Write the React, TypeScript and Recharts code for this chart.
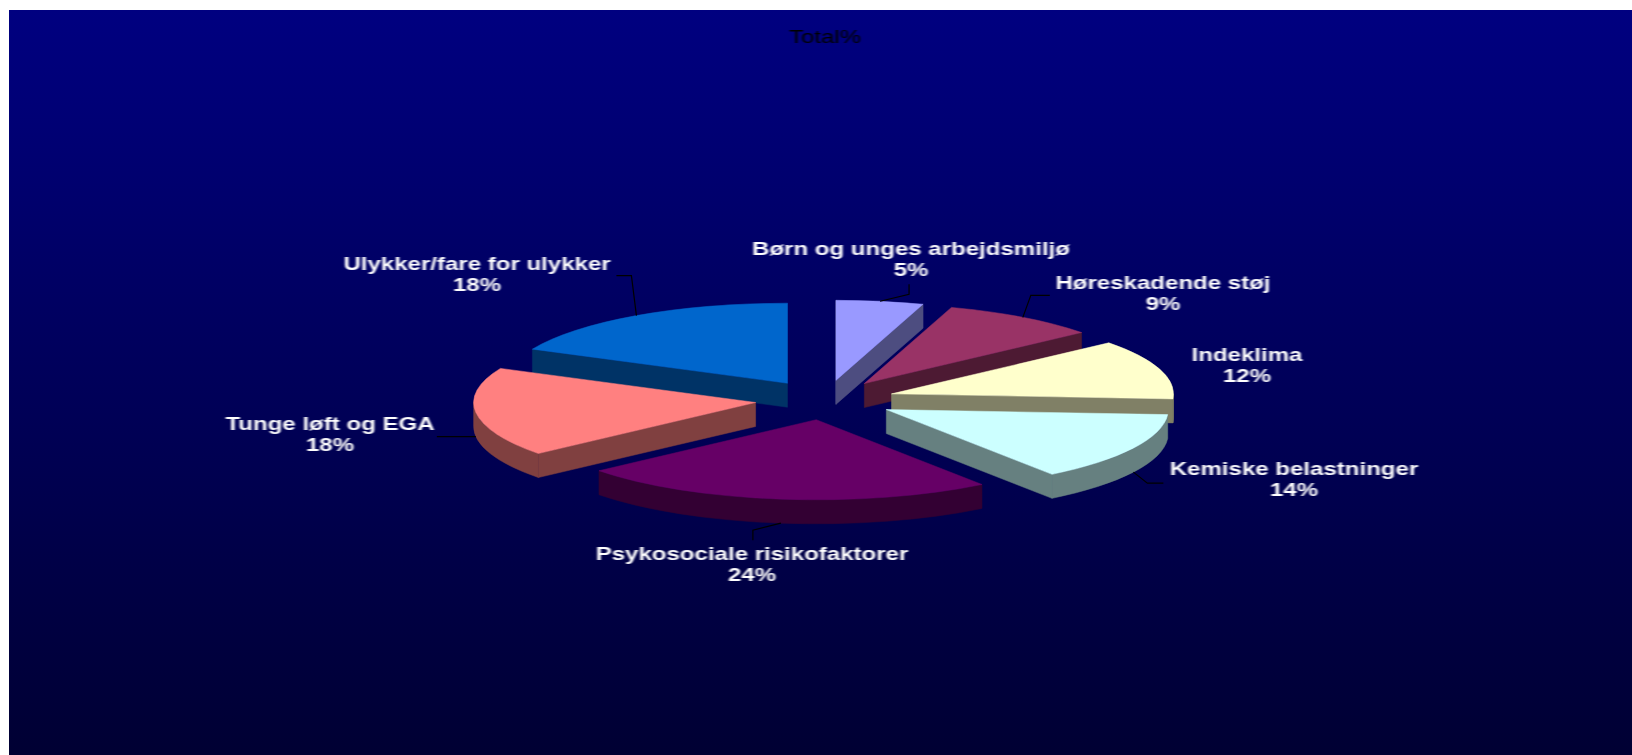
/**
 * Total% - exploded 3D look pie, drawn with a custom Pie sector shape
 */

import { PieChart, Pie } from 'recharts';

const categories = [
  'Ulykker/fare for ulykker',
  'Børn og unges arbejdsmiljø',
  'Høreskadende støj',
  'Indeklima',
  'Kemiske belastninger',
  'Psykosociale risikofaktorer',
  'Tunge løft og EGA',
];
const shares = [18, 5, 9, 12, 14, 24, 18];
const topColors = ['#0066cc', '#9999ff', '#993366', '#ffffcc', '#ccffff', '#660066', '#ff8080'];
const sideColors = ['#003366', '#4d4d80', '#4d1a33', '#808066', '#668080', '#330033', '#804040'];

const data = categories.map((name, i) => ({ name, value: shares[i], fill: topColors[i], side: sideColors[i] }));

// layout of the fake perspective
const WIDTH = 1632;
const HEIGHT = 755;
const CX = 825;
const CY = 400;
const RADIUS = 282;
const TILT = 0.284;
const EXPLODE = 0.248;
const DEPTH = 24;
const TEXT_STRETCH = 1.375;

// label centre (first line baseline) and leader elbows relative to the slice edge
const labelSpots = [
  [477, 270], [911, 255], [1163, 289], [1247, 361], [1294, 475], [752, 560], [330, 430],
];
const leaderElbows: number[][][] = [
  [[-5, -40], [-20, -40]],
  [[29, -7], [29, -17]],
  [[8, -22], [27, -22]],
  [],
  [[14, 11], [30, 11]],
  [[-28, 7], [-28, 17]],
  [[-39, 0]],
];

const rad = (deg: number) => (deg * Math.PI) / 180;

// angles here are clockwise from 12 o'clock, r is the horizontal radius
function project(ox: number, oy: number, r: number, theta: number) {
  return [ox + r * Math.sin(rad(theta)), oy - r * TILT * Math.cos(rad(theta))];
}

function sliceOrigin(cx: number, cy: number, r: number, mid: number) {
  return project(cx, cy, r * EXPLODE, mid);
}

function face(ox: number, oy: number, r: number, theta: number) {
  const [x, y] = project(ox, oy, r, theta);
  return `M${ox},${oy} L${x},${y} L${x},${y + DEPTH} L${ox},${oy + DEPTH} Z`;
}

function Slice3D(props: any) {
  const { cx, cy, outerRadius: r, startAngle, endAngle, fill, payload } = props;
  const side = payload?.side ?? props.side;
  let from = 90 - startAngle;
  let to = 90 - endAngle;
  while (from < 0) {
    from += 360;
    to += 360;
  }
  const mid = (from + to) / 2;
  const [ox, oy] = sliceOrigin(cx, cy, r, mid);
  const [x0, y0] = project(ox, oy, r, from);
  const [x1, y1] = project(ox, oy, r, to);
  const ry = r * TILT;

  const faces: string[] = [];
  if (Math.sin(rad(from)) < 0) faces.push(face(ox, oy, r, from));
  if (Math.sin(rad(to)) > 0) faces.push(face(ox, oy, r, to));

  const arcFrom = Math.max(from, 90);
  const arcTo = Math.min(to, 270);
  if (arcTo > arcFrom) {
    const [ax, ay] = project(ox, oy, r, arcFrom);
    const [bx, by] = project(ox, oy, r, arcTo);
    faces.push(
      `M${ax},${ay} A${r},${ry} 0 0 1 ${bx},${by} L${bx},${by + DEPTH} A${r},${ry} 0 0 0 ${ax},${ay + DEPTH} Z`,
    );
  }

  return (
    <g>
      {faces.map((d, i) => (
        <path key={i} d={d} fill={side} stroke={side} strokeWidth={0.5} />
      ))}
      <path d={`M${ox},${oy} L${x0},${y0} A${r},${ry} 0 0 1 ${x1},${y1} Z`} fill={fill} stroke={fill} strokeWidth={0.5} />
    </g>
  );
}

function StretchedText({ x, y, fill, bold, stretch = TEXT_STRETCH, children }: any) {
  return (
    <text
      transform={`translate(${x},${y}) scale(${stretch},1)`}
      textAnchor="middle"
      fontFamily="'Liberation Sans', Arial, sans-serif"
      fontSize={17.5}
      fontWeight={bold ? 700 : 400}
      fill={fill}
      filter="url(#soften)"
    >
      {children}
    </text>
  );
}

function SliceLabel(props: any) {
  const { cx, cy, outerRadius: r, midAngle, index, name, value } = props;
  const mid = ((90 - midAngle) % 360 + 360) % 360;
  const [ox, oy] = sliceOrigin(cx, cy, r, mid);
  const [sx, sy0] = project(ox, oy, r, mid);
  const sy = Math.cos(rad(mid)) < 0 ? sy0 + DEPTH : sy0;
  const elbows = leaderElbows[index];
  const [lx, ly] = labelSpots[index];
  return (
    <g>
      {elbows.length > 0 && (
        <polyline
          points={[[sx, sy], ...elbows.map(([dx, dy]) => [sx + dx, sy + dy])].map((p) => p.join(',')).join(' ')}
          fill="none"
          stroke="#000000"
          strokeWidth={1.2}
        />
      )}
      <StretchedText x={lx} y={ly} fill="#ffffff" bold>
        {name}
      </StretchedText>
      <StretchedText x={lx} y={ly + 21} fill="#ffffff" bold>
        {`${value}%`}
      </StretchedText>
    </g>
  );
}

export default function App() {
  return (
    <div style={{ position: 'absolute', left: 0, top: 0, width: WIDTH, height: HEIGHT, background: '#ffffff', overflow: 'hidden' }}>
      <div
        style={{
          position: 'absolute',
          left: 9,
          top: 10,
          right: 0,
          bottom: 0,
          background: 'linear-gradient(180deg, #000080 0%, #000033 100%)',
        }}
      />
      <div style={{ position: 'absolute', left: 0, top: 0 }}>
        <PieChart width={WIDTH} height={HEIGHT} margin={{ top: 0, right: 0, bottom: 0, left: 0 }}>
          <defs>
            <filter id="soften" x="-5%" y="-20%" width="110%" height="140%">
              <feGaussianBlur stdDeviation="0.6" />
            </filter>
          </defs>
          <StretchedText x={825} y={43} fill="#000000" stretch={1.37}>
            Total%
          </StretchedText>
          <Pie
            data={data}
            dataKey="value"
            nameKey="name"
            cx={CX}
            cy={CY}
            outerRadius={RADIUS}
            startAngle={154.8}
            endAngle={-205.2}
            stroke="none"
            shape={Slice3D}
            label={SliceLabel}
            labelLine={false}
            isAnimationActive={false}
          />
        </PieChart>
      </div>
    </div>
  );
}
